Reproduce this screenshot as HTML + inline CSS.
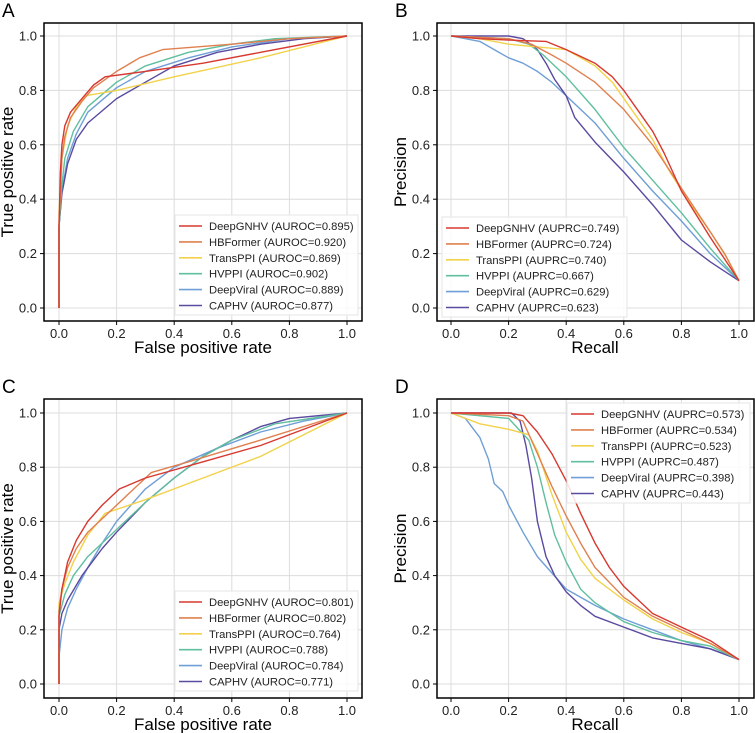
<!DOCTYPE html>
<html><head><meta charset="utf-8"><style>
body{margin:0;background:#fff}
svg{display:block;font-family:"Liberation Sans",sans-serif}
</style></head><body>
<svg id="fig" width="755" height="733" viewBox="0 0 755 733" xmlns="http://www.w3.org/2000/svg"></svg>
<script>
const seriesNames = ["DeepGNHV","HBFormer","TransPPI","HVPPI","DeepViral","CAPHV"];
const colors = ["#d7382f","#e0804f","#f1d24a","#5fbf9e","#6f9fd6","#5a4aa0"];
const ticks = [0,0.2,0.4,0.6,0.8,1.0];
const tickLabels = ["0.0","0.2","0.4","0.6","0.8","1.0"];
const aucA = ["0.895","0.920","0.869","0.902","0.889","0.877"];
const aucB = ["0.749","0.724","0.740","0.667","0.629","0.623"];
const aucC = ["0.801","0.802","0.764","0.788","0.784","0.771"];
const aucD = ["0.573","0.534","0.523","0.487","0.398","0.443"];

const A_x = [
 [0,0,0.005,0.01,0.02,0.04,0.08,0.12,0.16,0.3,0.5,0.7,1],
 [0,0,0.01,0.02,0.04,0.08,0.12,0.2,0.28,0.36,0.6,0.8,1],
 [0,0,0.01,0.03,0.06,0.09,0.2,0.4,0.7,1],
 [0,0,0.01,0.02,0.05,0.1,0.2,0.3,0.45,0.6,0.75,1],
 [0,0,0.01,0.03,0.06,0.1,0.2,0.3,0.45,0.6,0.8,1],
 [0,0,0.01,0.03,0.06,0.1,0.2,0.3,0.4,0.55,0.7,0.85,1]];
const A_y = [
 [0,0.3,0.5,0.6,0.67,0.72,0.77,0.82,0.85,0.87,0.9,0.94,1],
 [0,0.3,0.55,0.63,0.7,0.76,0.81,0.87,0.92,0.95,0.97,0.99,1],
 [0,0.35,0.55,0.67,0.74,0.78,0.8,0.85,0.92,1],
 [0,0.3,0.45,0.55,0.65,0.74,0.83,0.89,0.94,0.97,0.99,1],
 [0,0.3,0.43,0.55,0.64,0.72,0.81,0.87,0.92,0.96,0.99,1],
 [0,0.3,0.42,0.53,0.62,0.68,0.77,0.83,0.89,0.94,0.97,0.99,1]];
const B_x = [
 [0,0.1,0.2,0.33,0.4,0.5,0.56,0.6,0.64,0.7,0.74,0.8,0.9,0.95,1],
 [0,0.2,0.28,0.35,0.4,0.5,0.6,0.7,0.8,0.9,0.95,1],
 [0,0.1,0.2,0.3,0.4,0.5,0.56,0.62,0.7,0.76,0.82,0.9,0.96,1],
 [0,0.2,0.27,0.32,0.4,0.5,0.6,0.7,0.8,0.9,1],
 [0,0.05,0.1,0.15,0.2,0.25,0.3,0.35,0.4,0.5,0.6,0.7,0.8,0.9,1],
 [0,0.2,0.25,0.3,0.33,0.36,0.4,0.43,0.5,0.6,0.7,0.8,0.9,1]];
const B_y = [
 [1,0.99,0.985,0.98,0.95,0.9,0.85,0.8,0.74,0.65,0.57,0.43,0.26,0.18,0.1],
 [1,0.99,0.97,0.93,0.9,0.83,0.73,0.6,0.44,0.28,0.2,0.1],
 [1,0.99,0.97,0.96,0.95,0.89,0.83,0.74,0.62,0.5,0.4,0.28,0.18,0.1],
 [1,0.99,0.97,0.93,0.85,0.73,0.59,0.47,0.35,0.22,0.1],
 [1,0.99,0.98,0.95,0.92,0.9,0.87,0.83,0.78,0.68,0.55,0.43,0.32,0.2,0.1],
 [1,1,0.99,0.95,0.9,0.84,0.78,0.7,0.61,0.5,0.38,0.25,0.17,0.1]];
const C_x = [
 [0,0,0.01,0.03,0.06,0.1,0.15,0.21,0.3,0.5,0.7,1],
 [0,0,0.01,0.03,0.06,0.1,0.17,0.24,0.32,0.45,0.7,1],
 [0,0,0.02,0.05,0.1,0.16,0.3,0.5,0.7,1],
 [0,0,0.02,0.05,0.1,0.2,0.3,0.4,0.5,0.6,0.75,1],
 [0,0,0.01,0.03,0.06,0.1,0.15,0.2,0.3,0.4,0.55,0.7,0.85,1],
 [0,0,0.01,0.03,0.08,0.15,0.2,0.3,0.4,0.5,0.6,0.7,0.8,1]];
const C_y = [
 [0,0.25,0.35,0.45,0.53,0.6,0.66,0.72,0.76,0.82,0.88,1],
 [0,0.27,0.35,0.43,0.5,0.56,0.63,0.7,0.78,0.82,0.9,1],
 [0,0.3,0.37,0.45,0.55,0.63,0.68,0.76,0.84,1],
 [0,0.25,0.33,0.4,0.47,0.57,0.67,0.76,0.84,0.9,0.96,1],
 [0,0.1,0.2,0.28,0.35,0.43,0.52,0.6,0.72,0.8,0.87,0.93,0.97,1],
 [0,0.2,0.26,0.31,0.4,0.5,0.56,0.67,0.76,0.84,0.9,0.95,0.98,1]];
const D_x = [
 [0,0.2,0.25,0.3,0.35,0.4,0.45,0.5,0.55,0.6,0.7,0.8,0.9,1],
 [0,0.2,0.25,0.3,0.35,0.4,0.45,0.5,0.6,0.7,0.8,0.9,1],
 [0,0.05,0.1,0.2,0.27,0.3,0.35,0.4,0.45,0.5,0.6,0.7,0.8,0.9,1],
 [0,0.2,0.27,0.3,0.33,0.36,0.4,0.45,0.5,0.6,0.7,0.8,0.9,1],
 [0,0.05,0.1,0.13,0.15,0.18,0.2,0.25,0.3,0.35,0.4,0.5,0.6,0.7,0.8,0.9,1],
 [0,0.21,0.24,0.26,0.28,0.3,0.33,0.36,0.4,0.45,0.5,0.6,0.7,0.8,0.9,1]];
const D_y = [
 [1,1,0.99,0.93,0.85,0.75,0.63,0.52,0.43,0.36,0.26,0.21,0.16,0.09],
 [1,0.99,0.97,0.85,0.73,0.62,0.52,0.43,0.32,0.25,0.2,0.15,0.09],
 [1,0.98,0.96,0.94,0.92,0.86,0.7,0.56,0.46,0.39,0.31,0.24,0.19,0.15,0.09],
 [1,0.98,0.9,0.8,0.67,0.55,0.45,0.35,0.3,0.23,0.19,0.16,0.14,0.09],
 [1,0.98,0.91,0.83,0.74,0.71,0.66,0.56,0.47,0.41,0.35,0.29,0.24,0.2,0.16,0.13,0.09],
 [1,1,0.97,0.88,0.76,0.6,0.47,0.4,0.34,0.29,0.25,0.21,0.17,0.15,0.13,0.09]];

const NS="http://www.w3.org/2000/svg";
const svg=document.getElementById('fig');
function mk(tag,attrs,parent){const e=document.createElementNS(NS,tag);for(const k in attrs)e.setAttribute(k,attrs[k]);(parent||svg).appendChild(e);return e;}

function panel(cfg){
  const g=mk('g',{});
  
  
  const sx=v=>cfg.x0+(cfg.x1-cfg.x0)*v;
  const sy=v=>cfg.y0-(cfg.y0-cfg.y1)*v;
  const lt=mk('text',{x:cfg.bl-42,y:cfg.bt-6,'font-size':19,fill:'#000'},g);lt.textContent=cfg.letter;
  
  
  ticks.forEach((t,i)=>{
    const gx=mk('line',{x1:sx(t),x2:sx(t),y1:cfg.bt,y2:cfg.bb,stroke:'#dcdcdc','stroke-width':1},g);
    
    
    const gy=mk('line',{x1:cfg.bl,x2:cfg.br,y1:sy(t),y2:sy(t),stroke:'#dcdcdc','stroke-width':1},g);
    
    
    mk('line',{x1:sx(t),x2:sx(t),y1:cfg.bb,y2:cfg.bb+4,stroke:'#000'},g);
    mk('line',{x1:cfg.bl-4,x2:cfg.bl,y1:sy(t),y2:sy(t),stroke:'#000'},g);
    const tx=mk('text',{x:sx(t),y:cfg.bb+17,'font-size':13,'text-anchor':'middle',fill:'#222'},g);tx.textContent=tickLabels[i];
    
    
    const ty=mk('text',{x:cfg.bl-7,y:sy(t)+4.5,'font-size':13,'text-anchor':'end',fill:'#222'},g);ty.textContent=tickLabels[i];
    
    
  });
  const order=[4,5,3,2,1,0];
  order.forEach(s=>{
    const pts=cfg.xs[s].map((x,i)=>sx(x).toFixed(1)+','+sy(cfg.ys[s][i]).toFixed(1)).join(' ');
    const pl=mk('polyline',{points:pts,fill:'none',stroke:colors[s],'stroke-width':1.4,'stroke-linejoin':'round'},g);
    
    
  });
  const box=mk('rect',{x:cfg.bl,y:cfg.bt,width:cfg.br-cfg.bl,height:cfg.bb-cfg.bt,fill:'none',stroke:'#000','stroke-width':1.5},g);
  
  
  const xt=mk('text',{x:(cfg.x0+cfg.x1)/2,y:cfg.bb+32,'font-size':17,'text-anchor':'middle',fill:'#000'},g);xt.textContent=cfg.xl;
  
  
  const yc=(cfg.bt+cfg.bb)/2;
  const yt=mk('text',{x:cfg.bl-31,y:yc,'font-size':17,'text-anchor':'middle',fill:'#000',transform:`rotate(-90 ${cfg.bl-31} ${yc})`},g);yt.textContent=cfg.yl;
  
  
  const lg=mk('g',{},g);
  
  
  mk('rect',{x:cfg.lx,y:cfg.ly,width:cfg.lw,height:100,fill:'#fff','fill-opacity':0.85,stroke:'#e6e6e6'},lg);
  seriesNames.forEach((n,i)=>{
    const y=cfg.ly+11+i*15.9;
    mk('line',{x1:cfg.lx+4,x2:cfg.lx+27,y1:y,y2:y,stroke:colors[i],'stroke-width':1.6},lg);
    const t=mk('text',{x:cfg.lx+34,y:y+4,'font-size':11.2,fill:'#222'},lg);
    t.textContent=n+' ('+cfg.metric+'='+cfg.auc[i]+')';
    
    
  });
}
panel({letter:'A',bl:44,br:362,bt:23,bb:321,x0:59,x1:347,y0:308,y1:36,xs:A_x,ys:A_y,xl:'False positive rate',yl:'True positive rate',metric:'AUROC',auc:aucA,lx:175,ly:215,lw:183});
panel({letter:'B',bl:437,br:754,bt:23,bb:321,x0:451,x1:739,y0:308,y1:36,xs:B_x,ys:B_y,xl:'Recall',yl:'Precision',metric:'AUPRC',auc:aucB,lx:442,ly:217,lw:185});
panel({letter:'C',bl:44,br:362,bt:399,bb:698,x0:59,x1:347,y0:684,y1:413,xs:C_x,ys:C_y,xl:'False positive rate',yl:'True positive rate',metric:'AUROC',auc:aucC,lx:175,ly:591,lw:183});
panel({letter:'D',bl:437,br:754,bt:399,bb:698,x0:451,x1:739,y0:684,y1:413,xs:D_x,ys:D_y,xl:'Recall',yl:'Precision',metric:'AUPRC',auc:aucD,lx:567,ly:403,lw:183});
</script>
</body></html>
